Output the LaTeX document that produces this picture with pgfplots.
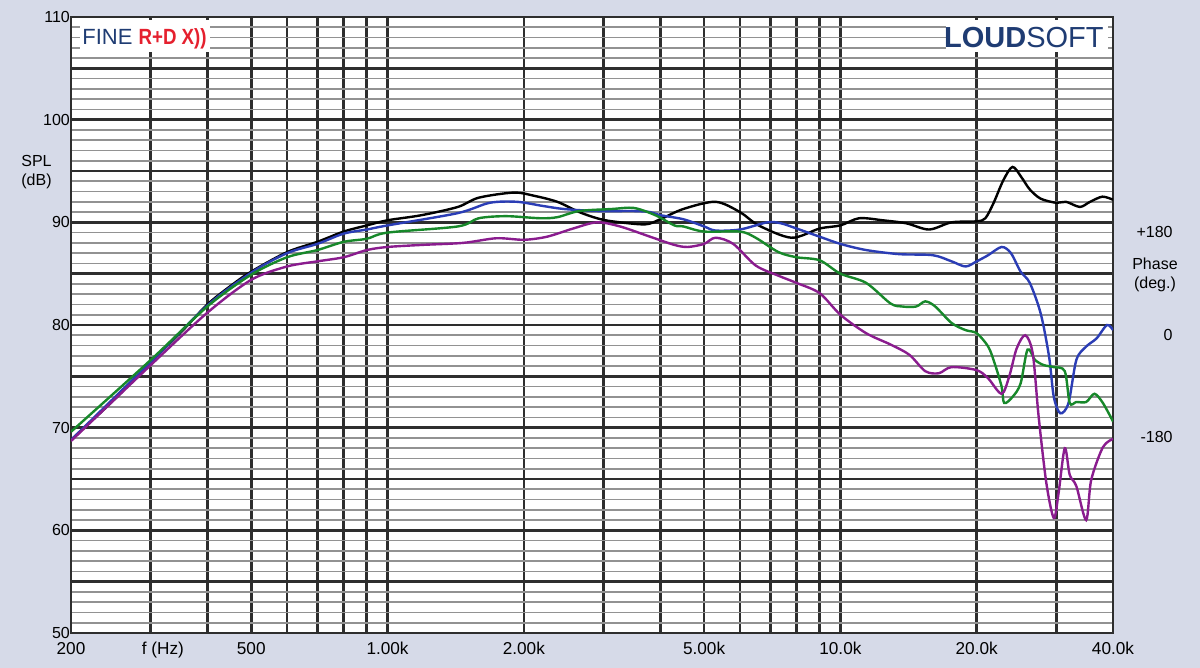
\documentclass[border=0pt]{standalone}
\usepackage{fontspec}
\setmainfont{Liberation Sans}
\usepackage{graphicx}
\usepackage{pgfplots}
\pgfplotsset{compat=1.18}
\usepackage{pgfplotstable}

\definecolor{bgcol}{HTML}{D6DAE8}
\definecolor{gridd}{HTML}{2E2E2E}
\definecolor{gridl}{HTML}{929292}
\definecolor{navy}{HTML}{1F3C73}
\definecolor{logored}{HTML}{E5202E}
\definecolor{cblue}{HTML}{2B3DB5}
\definecolor{cgreen}{HTML}{17882A}
\definecolor{cpurple}{HTML}{8A1C8E}

% frequency response, SPL in dB
\pgfplotstableread{
f dB
200 68.8
250 72.8
300 76.4
350 79.3
400 82.0
450 83.8
500 85.2
600 87.1
700 88.1
800 89.1
900 89.7
1000 90.2
1190 90.7
1430 91.5
1590 92.4
1900 92.9
2100 92.6
2370 92.0
2650 91.0
2900 90.4
3130 90.1
3700 89.8
4000 90.3
4500 91.3
5300 92.0
6000 91.0
6600 89.7
7800 88.5
9000 89.4
10000 89.7
11000 90.4
12400 90.2
14000 89.9
15700 89.3
17600 90.0
20000 90.1
20900 90.4
21800 91.9
22900 94.1
24000 95.4
25100 94.4
26200 93.2
27700 92.3
30000 91.9
31500 92.0
33800 91.5
35600 92.0
37900 92.5
40000 92.2
}\blackdata

\pgfplotstableread{
f dB
200 68.8
300 76.4
400 81.9
500 85.1
600 87.0
700 87.9
800 88.9
900 89.3
1000 89.7
1430 90.9
1680 91.9
1930 92.0
2200 91.6
2450 91.3
2900 91.1
3500 91.1
3800 91.0
4000 90.7
4500 90.3
5000 89.6
5300 89.2
6000 89.3
6900 90.0
7400 89.9
8000 89.4
9000 88.6
10000 87.9
11400 87.3
13500 86.9
16000 86.8
17600 86.2
18900 85.7
20000 86.2
21200 86.8
22700 87.6
23800 87.0
25000 85.2
26200 84.1
27700 81.1
28900 76.9
29600 73.0
30600 71.4
31900 72.4
33200 76.6
34900 77.9
36800 78.7
38800 80.0
40000 79.5
}\bluedata

\pgfplotstableread{
f dB
200 69.6
300 76.6
400 81.8
500 84.9
600 86.6
700 87.3
800 88.1
900 88.4
1000 89.0
1430 89.6
1590 90.4
1830 90.6
2170 90.4
2370 90.5
2650 91.1
3130 91.3
3500 91.4
3900 90.7
4300 89.7
4500 89.6
5000 89.1
6000 89.1
6500 88.5
7300 87.1
8000 86.6
9000 86.3
10000 85.0
11400 84.1
12900 82.1
13700 81.8
14700 81.8
15400 82.3
16200 81.8
17600 80.2
18900 79.5
20000 79.2
21200 77.9
21900 76.3
22700 74.0
23000 72.4
24000 73.0
25000 74.3
25900 77.6
26900 76.6
28100 76.1
29600 75.9
31300 75.5
32100 72.4
33200 72.5
34900 72.5
36400 73.3
38000 72.4
40000 70.6
}\greendata

\pgfplotstableread{
f dB
200 68.7
300 76.1
400 81.2
500 84.4
600 85.7
700 86.2
800 86.6
900 87.3
1000 87.6
1190 87.8
1470 88.0
1740 88.45
2000 88.3
2250 88.6
2570 89.4
2900 90.0
3260 89.6
3800 88.6
4300 87.8
4600 87.6
5000 87.9
5300 88.5
5800 87.9
6500 85.8
7300 84.8
8000 84.1
9000 83.1
10000 81.0
11400 79.2
12900 78.1
14200 77.1
15400 75.5
16500 75.3
17600 75.9
20000 75.6
21200 74.8
22700 73.3
23600 75.0
24500 77.7
25600 79.0
26600 77.2
27400 71.1
28500 64.6
29600 61.2
30300 63.5
31300 68.0
32100 65.4
33200 64.3
34900 61.0
35800 64.9
38000 68.1
40000 68.9
}\purpledata

\begin{document}
\begin{tikzpicture}
\fill[bgcol] (0,0) rectangle (600pt,334pt);
\useasboundingbox (0,0) rectangle (600pt,334pt);
\begin{axis}[
    at={(35.5pt,17.5pt)}, anchor=south west,
    scale only axis, width=521pt, height=308pt,
    xmode=log, xmin=200, xmax=40000, ymin=50, ymax=110,
    axis background/.style={fill=white},
    xtick={200,300,400,500,600,700,800,900,1000,2000,3000,4000,5000,6000,7000,8000,9000,10000,20000,30000,40000},
    xticklabels={200,,,500,,,,,1.00k,2.00k,,,5.00k,,,,,10.0k,20.0k,,40.0k},
    extra x ticks={319}, extra x tick labels={f (Hz)},
    extra x tick style={grid=none},
    minor x tick num=0,
    ytick={50,55,...,110},
    yticklabels={50,,60,,70,,80,,90,,100,,110},
    minor y tick num=4,
    xmajorgrids=true, xminorgrids=false,
    ymajorgrids=true, yminorgrids=true,
    major grid style={draw=gridd, line width=1.35pt},
    minor grid style={draw=gridl, line width=0.85pt},
    axis line style={draw=gridd, line width=1.4pt},
    tick style={draw=none},
    xticklabel style={font=\fontsize{8.6}{10}\selectfont, yshift=-1.2pt},
    yticklabel style={font=\fontsize{8}{9.6}\selectfont, inner xsep=0.4pt},
    clip=true,
]
\addplot[black, line width=1.2pt, smooth, tension=0.5] table[x=f, y=dB] {\blackdata};
\addplot[cblue, line width=1.2pt, smooth, tension=0.5] table[x=f, y=dB] {\bluedata};
\addplot[cgreen, line width=1.2pt, smooth, tension=0.5] table[x=f, y=dB] {\greendata};
\addplot[cpurple, line width=1.2pt, smooth, tension=0.5] table[x=f, y=dB] {\purpledata};
\end{axis}
% logo boxes
\fill[white] (40pt,308pt) rectangle (105pt,324pt);
\node[anchor=base west, inner sep=0pt, font=\fontsize{11}{13}\selectfont]
  at (41pt,311.5pt) {\color{navy}FINE \color{logored}\scalebox{0.85}[1]{\bfseries R+D X))}};
\fill[white] (473pt,308pt) rectangle (554pt,324pt);
\node[anchor=base east, inner sep=0pt, font=\fontsize{14.5}{16}\selectfont, text=navy]
  at (552pt,310pt) {\textbf{LOUD}SOFT};
% axis titles
\node[anchor=west, align=left, inner sep=0pt, font=\fontsize{8}{9.5}\selectfont]
  at (10.5pt,248pt) {SPL\\(dB)};
\node[anchor=east, inner sep=0pt, font=\fontsize{8}{9.6}\selectfont] at (586.5pt,218pt) {+180};
\node[align=center, inner sep=0pt, font=\fontsize{8}{9.5}\selectfont] at (577.5pt,196.8pt) {Phase\\(deg.)};
\node[anchor=east, inner sep=0pt, font=\fontsize{8}{9.6}\selectfont] at (586.5pt,166.5pt) {0};
\node[anchor=east, inner sep=0pt, font=\fontsize{8}{9.6}\selectfont] at (586.5pt,115.5pt) {-180};
\end{tikzpicture}
\end{document}
